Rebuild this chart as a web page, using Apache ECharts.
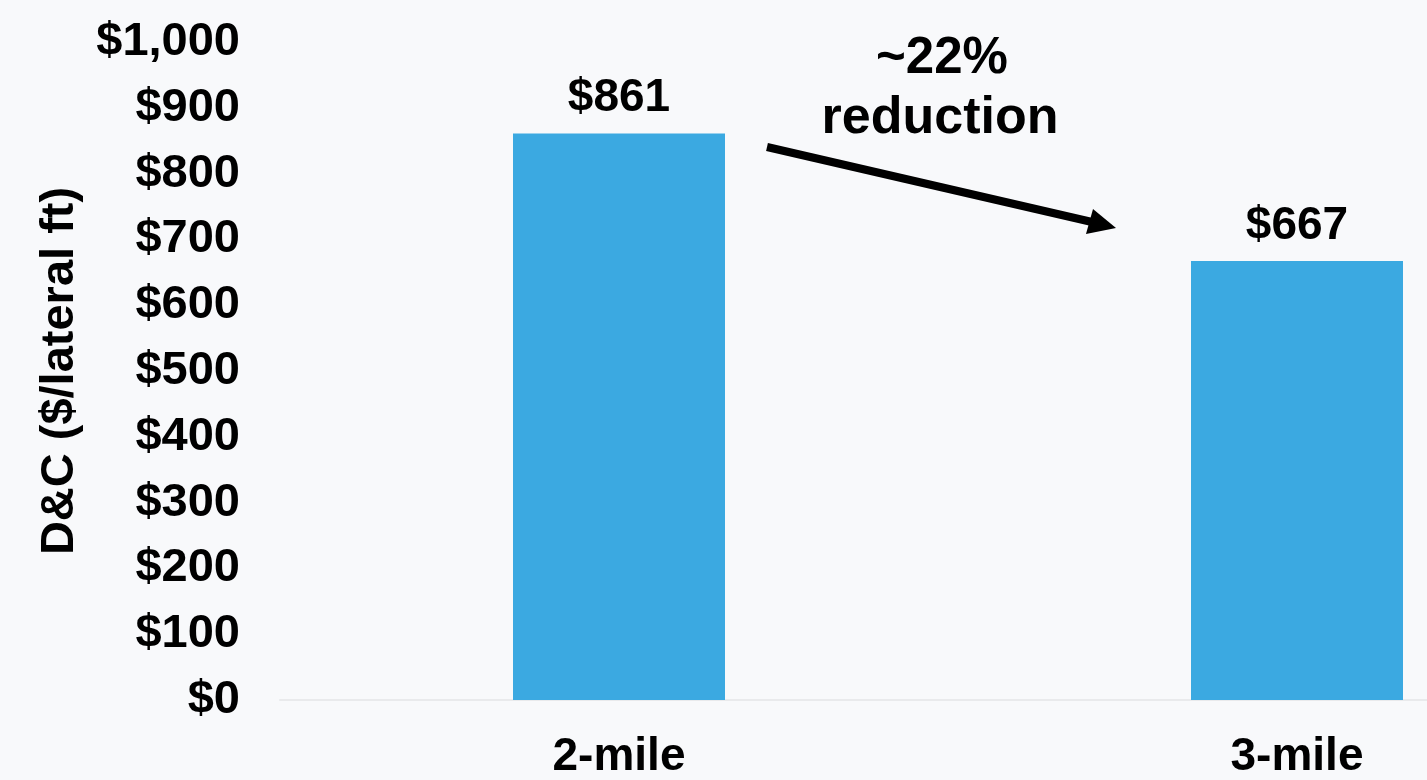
<!DOCTYPE html>
<html>
<head>
<meta charset="utf-8">
<script src="https://cdn.jsdelivr.net/npm/echarts@6/dist/echarts.min.js"></script>
<style>
html,body{margin:0;padding:0;background:#f8f9fb;}
#chart{width:1427px;height:780px;}
</style>
</head>
<body>
<div id="chart"></div>
<script>
const categories = ['2-mile', '3-mile'];
const values = [861, 667];
const yMin = 0, yMax = 1000, yStep = 100;
const yAxisTitle = 'D&C ($/lateral ft)';
const noteLines = ['~22%', 'reduction'];

const FONT = '"Liberation Sans", Arial, Helvetica, sans-serif';
const chart = echarts.init(document.getElementById('chart'));

function money(v) {
  return '$' + Number(v).toLocaleString('en-US');
}

chart.setOption({
  backgroundColor: '#f8f9fb',
  animation: false,
  grid: { left: 280, top: 42, width: 1356, height: 658, outerBoundsMode: 'none', containLabel: false },
  xAxis: {
    type: 'category',
    data: categories,
    axisLine: { show: true, lineStyle: { color: '#e9eaec', width: 2 } },
    axisTick: { show: false },
    axisLabel: { color: '#000', fontSize: 46, fontWeight: 'bold', fontFamily: FONT, margin: 34 }
  },
  yAxis: {
    type: 'value',
    min: yMin, max: yMax, interval: yStep,
    name: yAxisTitle,
    nameLocation: 'middle',
    nameGap: 196,
    nameTextStyle: { color: '#000', fontSize: 47, fontWeight: 'bold', fontFamily: FONT },
    splitLine: { show: false },
    axisLine: { show: false },
    axisTick: { show: false },
    axisLabel: { color: '#000', fontSize: 47, fontWeight: 'bold', fontFamily: FONT, margin: 40, formatter: money }
  },
  series: [{
    type: 'bar',
    data: values,
    barWidth: 212,
    itemStyle: { color: '#3ba9e1' },
    label: {
      show: true, position: 'top', distance: 12,
      color: '#000', fontSize: 46, fontWeight: 'bold', fontFamily: FONT,
      formatter: p => money(p.value)
    }
  }],
  graphic: [
    { type: 'text', x: 942, y: 59,
      style: { text: noteLines[0], fill: '#000', font: 'bold 51px ' + FONT, textAlign: 'center', textVerticalAlign: 'middle' } },
    { type: 'text', x: 940, y: 119,
      style: { text: noteLines[1], fill: '#000', font: 'bold 52px ' + FONT, textAlign: 'center', textVerticalAlign: 'middle' } },
    { type: 'line', shape: { x1: 767, y1: 147, x2: 1092, y2: 222 },
      style: { stroke: '#000', lineWidth: 8 } },
    { type: 'polygon', shape: { points: [[1116, 228], [1086, 234], [1093, 209]] },
      style: { fill: '#000' } }
  ]
});
</script>
</body>
</html>
